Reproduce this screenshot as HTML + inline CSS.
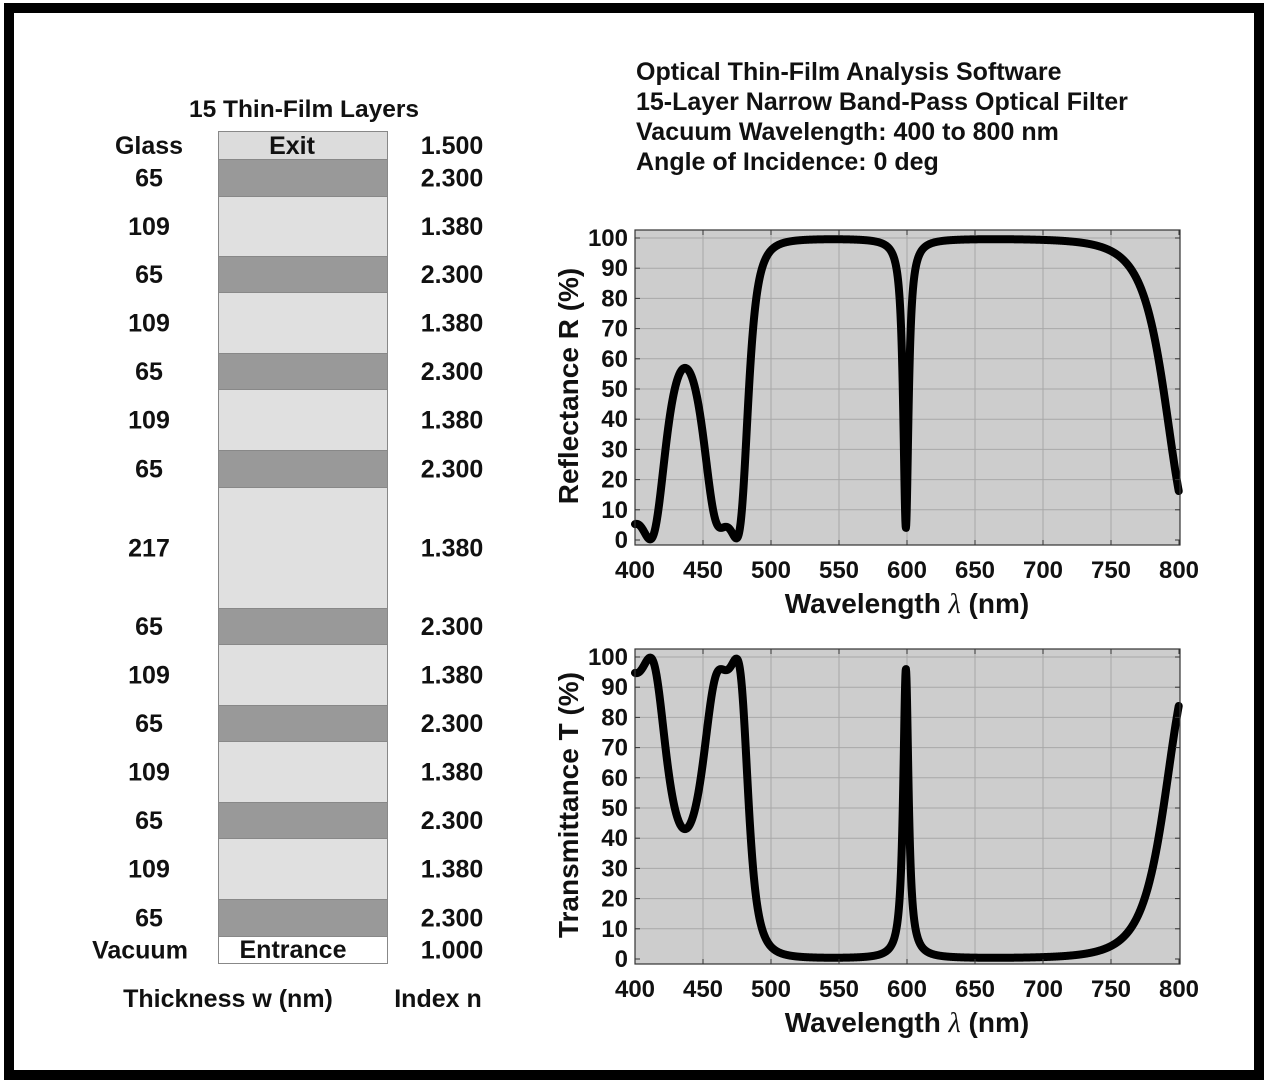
<!DOCTYPE html>
<html><head><meta charset="utf-8"><style>
html,body{margin:0;padding:0;background:#fff}
svg{display:block}
text{font-family:"Liberation Sans",Arial,sans-serif;font-weight:bold;fill:#111}
</style></head><body>
<svg id="s" width="1267" height="1081" viewBox="0 0 1267 1081" xmlns="http://www.w3.org/2000/svg">
<rect x="0" y="0" width="1267" height="1081" fill="#fff"/>
<rect x="9" y="8" width="1250" height="1067" fill="none" stroke="#000" stroke-width="10"/>
<g id="stack"></g>
<text x="304" y="117" font-size="24.5" text-anchor="middle">15 Thin-Film Layers</text>
<text x="228" y="1007" font-size="25" text-anchor="middle">Thickness w (nm)</text>
<text x="438" y="1007" font-size="25" text-anchor="middle">Index n</text>
<g font-size="25" textLength="">
<text x="636" y="80">Optical Thin-Film Analysis Software</text>
<text x="636" y="110">15-Layer Narrow Band-Pass Optical Filter</text>
<text x="636" y="140">Vacuum Wavelength: 400 to 800 nm</text>
<text x="636" y="170">Angle of Incidence: 0 deg</text>
</g>
<g id="p1"></g>
<g id="p2"></g>
</svg>
<script>
var NS="http://www.w3.org/2000/svg",S=document.getElementById('s');
function el(p,t,a,txt){var e=document.createElementNS(NS,t);for(var k in a)e.setAttribute(k,a[k]);if(txt!=null)e.textContent=txt;p.appendChild(e);return e;}
var st=document.getElementById('stack');
var b=[131,159,196,256,292,353,389,450,487,608,644,705,741,802,838,899,936,963];
var lw=["Glass","65","109","65","109","65","109","65","217","65","109","65","109","65","109","65","Vacuum"];
var ln=["1.500","2.300","1.380","2.300","1.380","2.300","1.380","2.300","1.380","2.300","1.380","2.300","1.380","2.300","1.380","2.300","1.000"];
for(var i=0;i<17;i++){
 var f=i==0?"#dcdcdc":i==16?"#fff":(ln[i]=="2.300"?"#999":"#e0e0e0");
 el(st,'rect',{x:218.5,y:b[i]+.5,width:169,height:b[i+1]-b[i],fill:f,stroke:"#888","stroke-width":1});
 var cy=(b[i]+b[i+1])/2+9;
 el(st,'text',{x:i==16?140:149,y:cy,"font-size":25,"text-anchor":"middle"},lw[i]);
 el(st,'text',{x:452,y:cy,"font-size":25,"text-anchor":"middle"},ln[i]);
}
el(st,'text',{x:292,y:154,"font-size":25,"text-anchor":"middle"},"Exit");
el(st,'text',{x:293,y:958,"font-size":25,"text-anchor":"middle"},"Entrance");
var layers=[];
for(var j=0;j<15;j++){
 if(j%2==0)layers.push([2.3,65]);else layers.push([1.38,(j==7)?217:109]);
}
function calc(lam){
 var m=[[1,0],[0,0],[0,0],[1,0]];
 function mul(a,c){return [a[0]*c[0]-a[1]*c[1],a[0]*c[1]+a[1]*c[0]];}
 function add(a,c){return [a[0]+c[0],a[1]+c[1]];}
 for(var k=0;k<layers.length;k++){
  var n=layers[k][0],d=2*Math.PI*n*layers[k][1]/lam,c=Math.cos(d),s=Math.sin(d);
  var l=[[c,0],[0,s/n],[0,n*s],[c,0]];
  m=[add(mul(m[0],l[0]),mul(m[1],l[2])),add(mul(m[0],l[1]),mul(m[1],l[3])),
     add(mul(m[2],l[0]),mul(m[3],l[2])),add(mul(m[2],l[1]),mul(m[3],l[3]))];
 }
 var ns=1.5,n0=1;
 var B=add(m[0],[m[1][0]*ns,m[1][1]*ns]),C=add(m[2],[m[3][0]*ns,m[3][1]*ns]);
 var num=[n0*B[0]-C[0],n0*B[1]-C[1]],den=[n0*B[0]+C[0],n0*B[1]+C[1]];
 var dd=den[0]*den[0]+den[1]*den[1];
 var R=(num[0]*num[0]+num[1]*num[1])/dd;
 return [R*100,100*4*n0*ns/dd];
}
function plot(g,y0,idx,lab){
 var X0=635,X1=1180,T=y0-310,Bt=y0+5;
 var px=function(w){return 635+(w-400)*1.36;},py=function(v){return y0-3.02*v;};
 el(g,'rect',{x:X0,y:T,width:X1-X0,height:Bt-T,fill:"#cdcdcd"});
 for(var w=450;w<800;w+=50)el(g,'line',{x1:px(w),x2:px(w),y1:T,y2:Bt,stroke:"#a8a8a8","stroke-width":1});
 for(var v=10;v<=100;v+=10)el(g,'line',{x1:X0,x2:X1,y1:py(v),y2:py(v),stroke:"#a8a8a8","stroke-width":1});
 var pts=[];
 for(var w=400;w<=800;w+=0.2){var r=calc(w)[idx];pts.push(px(w).toFixed(2)+","+py(r).toFixed(2));}
 el(g,'polyline',{points:pts.join(" "),fill:"none",stroke:"#000","stroke-width":8,"stroke-linejoin":"round","stroke-linecap":"round"});
 el(g,'rect',{x:X0,y:T,width:X1-X0,height:Bt-T,fill:"none",stroke:"#333","stroke-width":1.2});
 for(var w=400;w<=800;w+=50){
  el(g,'line',{x1:px(w),x2:px(w),y1:Bt,y2:Bt-5,stroke:"#333"});el(g,'line',{x1:px(w),x2:px(w),y1:T,y2:T+5,stroke:"#333"});
  el(g,'text',{x:px(w),y:y0+38,"font-size":24,"text-anchor":"middle"},w);
 }
 for(var v=0;v<=100;v+=10){
  el(g,'line',{x1:X0,x2:X0+5,y1:py(v),y2:py(v),stroke:"#333"});el(g,'line',{x1:X1,x2:X1-5,y1:py(v),y2:py(v),stroke:"#333"});
  el(g,'text',{x:628,y:py(v)+8,"font-size":24,"text-anchor":"end"},v);
 }
 var t=el(g,'text',{x:907,y:y0+73,"font-size":28,"text-anchor":"middle"},"Wavelength ");
 el(t,'tspan',{"font-family":"Liberation Serif, serif","font-style":"italic","font-weight":"normal"},"λ");
 el(t,'tspan',{}," (nm)");
 el(g,'text',{x:0,y:0,"font-size":28,"text-anchor":"middle",transform:"translate(578,"+(y0-154)+") rotate(-90)"},lab);
}
plot(document.getElementById('p1'),540,0,"Reflectance R (%)");
plot(document.getElementById('p2'),959,1,"Transmittance T (%)");
</script>
</body></html>
